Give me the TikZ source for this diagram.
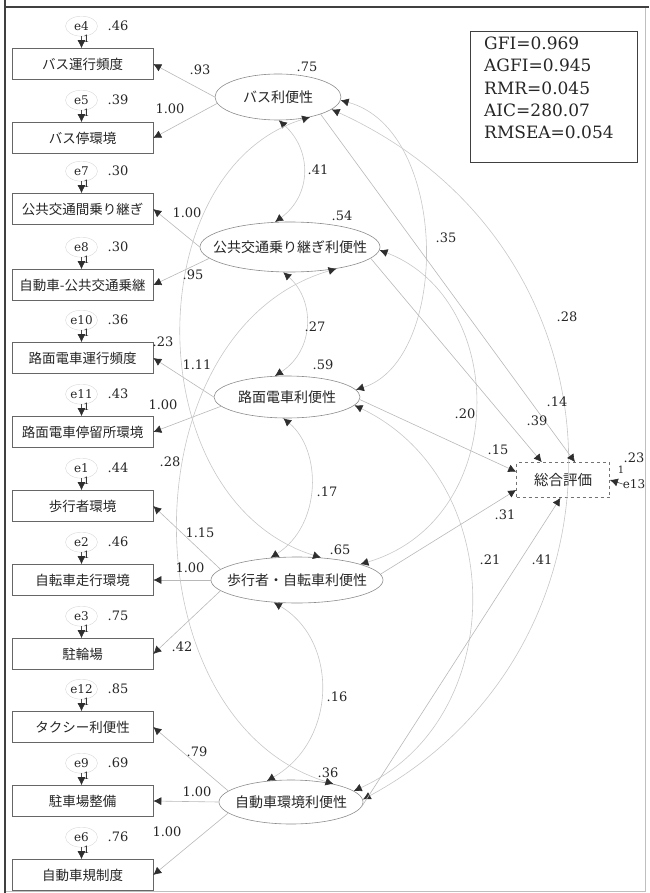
\documentclass[tikz,border=0pt]{standalone}
\usepackage{fontspec}
\setmainfont{DejaVu Serif}
\newfontfamily\jp{Noto Sans CJK JP}
\usetikzlibrary{arrows.meta,shapes.geometric}
\begin{document}
\begin{tikzpicture}[x=1pt,y=-1pt,
  ah/.tip={Latex[length=8pt,width=8pt,color=black!82]},
  obs/.style={draw=black!60, line width=0.6pt, minimum width=141pt, minimum height=31pt, inner sep=0pt, font=\jp\fontsize{13.5}{14}\selectfont, text=black!85},
  latent/.style={ellipse, draw=black!45, line width=0.6pt, inner sep=0pt},
  ltext/.style={font=\jp\fontsize{14}{14}\selectfont, inner sep=0pt, text=black!85},
  con/.style={draw=black!28, line width=0.6pt, -{ah}},
  cov/.style={draw=black!22, line width=0.6pt, {ah}-{ah}},
  econ/.style={draw=black!70, line width=0.6pt, -{ah}},
  ecirc/.style={ellipse, draw=black!15, minimum width=32pt, minimum height=20pt, inner sep=0pt},
  num/.style={font=\fontsize{13}{13}\selectfont, text=black!85, inner sep=0pt},
  enode/.style={font=\fontsize{12}{12}\selectfont, text=black!85, inner sep=0pt},
  one/.style={font=\fontsize{10}{10}\selectfont, text=black!85, inner sep=0pt},
]
\useasboundingbox (0,0) rectangle (649,893);
% frame
\draw[black!25, line width=0.8pt] (645,7) -- (645,891) -- (5,891);
\draw[black!75, line width=1.2pt] (5,7) -- (649,7);
\draw[black!75, line width=2.2pt] (5,0) -- (5,893);

% observed variables
\node[obs] (o1)  at (82.5,64)  {バス運行頻度};
\node[obs] (o2)  at (82.5,138) {バス停環境};
\node[obs] (o3)  at (82.5,209) {公共交通間乗り継ぎ};
\node[obs] (o4)  at (82.5,285) {自動車-公共交通乗継};
\node[obs] (o5)  at (82.5,358) {路面電車運行頻度};
\node[obs] (o6)  at (82.5,432) {路面電車停留所環境};
\node[obs] (o7)  at (82.5,506) {歩行者環境};
\node[obs] (o8)  at (82.5,580) {自転車走行環境};
\node[obs] (o9)  at (82.5,654) {駐輪場};
\node[obs] (o10) at (82.5,727) {タクシー利便性};
\node[obs] (o11) at (82.5,801) {駐車場整備};
\node[obs] (o12) at (82.5,875) {自動車規制度};

% error terms
\foreach \i/\e/\v in {1/e4/.46, 2/e5/.39, 3/e7/.30, 4/e8/.30, 5/e10/.36, 6/e11/.43,
                      7/e1/.44, 8/e2/.46, 9/e3/.75, 10/e12/.85, 11/e9/.69, 12/e6/.76}{
  \path (o\i.north) ++(-1,-22) node[ecirc] (c\i) {} node[enode] (en\i) {\e};
  \node[num, anchor=west] (ev\i) at ([xshift=26pt]c\i.center) {\v};
  \draw[econ] (c\i.south) -- ([xshift=-1pt]o\i.north) node[one, pos=0.2, right=1.5pt] (one\i) {1};
}

% latent variables
\node[latent, minimum width=126pt, minimum height=46pt] (l1) at (278,97) {};
\node[ltext] (lt1) at (l1) {バス利便性};
\node[latent, minimum width=180pt, minimum height=50pt] (l2) at (290,247) {};
\node[ltext] (lt2) at (l2) {公共交通乗り継ぎ利便性};
\node[latent, minimum width=146pt, minimum height=42pt] (l3) at (287,397) {};
\node[ltext] (lt3) at (l3) {路面電車利便性};
\node[latent, minimum width=172pt, minimum height=46pt] (l4) at (297,580) {};
\node[ltext] (lt4) at (l4) {歩行者・自転車利便性};
\node[latent, minimum width=144pt, minimum height=44pt] (l5) at (291,802) {};
\node[ltext] (lt5) at (l5) {自動車環境利便性};

% total evaluation
\node[draw=black!55, dashed, line width=0.6pt, minimum width=93pt, minimum height=35pt, inner sep=0pt,
      font=\jp\fontsize{14.5}{15}\selectfont, text=black!85] (t) at (563,480) {総合評価};
\node[enode] (e13) at (634,484) {e13};
\draw[econ] (e13.west) -- (t.east);
\node[one] (one13) at (621,470) {1};

% fit box
\node[draw=black!75, line width=1pt, minimum width=167pt, minimum height=131pt, inner sep=0pt] (fitbox) at (553.5,97.5) {};
\node[anchor=west, align=left, inner sep=0pt, font=\fontsize{17}{22.3}\selectfont, text=black!85] (fittext) at (484,88)
  {GFI=0.969\\AGFI=0.945\\RMR=0.045\\AIC=280.07\\RMSEA=0.054};

% loadings
\draw[con] (l1.180) -- (o1.east);
\draw[con] (l1.186) -- (o2.east);
\draw[con] (l2.180) -- (o3.east);
\draw[con] (l2.188) -- (o4.east);
\draw[con] (l3.180) -- (o5.east);
\draw[con] (l3.188) -- (o6.east);
\draw[con] (l4.172) -- (o7.east);
\draw[con] (l4.180) -- (o8.east);
\draw[con] (l4.188) -- (o9.east);
\draw[con] (l5.170) -- (o10.east);
\draw[con] (l5.180) -- (o11.east);
\draw[con] (l5.190) -- (o12.east);

% covariances
\draw[cov] (l1.-88) .. controls (312,150) and (312,195) .. (l2.121);
\draw[cov] (l2.-105) .. controls (315,300) and (315,350) .. (l3.120);
\draw[cov] (l3.-100) .. controls (322,450) and (322,525) .. (l4.140);
\draw[cov] (l4.-136) .. controls (338,640) and (338,740) .. (l5.139);
\draw[cov] (l1.-32) .. controls (137,170) and (137,500) .. (l4.43);
\draw[cov] (l2.-25) .. controls (126,330) and (126,720) .. (l5.23);
\draw[cov] (l1.-3) .. controls (450,130) and (450,360) .. (l3.6);
\draw[cov] (l2.-2) .. controls (510,300) and (510,520) .. (l4.14);
\draw[cov] (l3.-7) .. controls (510,480) and (510,720) .. (l5.10);
\draw[cov] (l1.-13) .. controls (640,250) and (640,650) .. (l5.2);

% paths to total evaluation
\draw[con] (l1.-22) -- (t.56);
\draw[con] (l2.-8) -- (t.140);
\draw[con] (l3.-2) -- (t.170);
\draw[con] (l4.4) -- (t.192);
\draw[con] (l5.-4) -- (t.-98);

% coefficient labels
\foreach \n/\x/\y/\t in {
 a1/200/70/.93, a2/170/109/1.00, a3/187/213/1.00, a4/193/275/.95, a5/163/342/.23,
 a6/197/365/1.11, a7/163/405/1.00, a8/170/462/.28, a9/200/533/1.15, a10/190/568/1.00,
 a11/182/647/.42, a12/197/752/.79, a13/197/792/1.00, a14/167/832/1.00,
 v1/307/67/.75, v2/342/216/.54, v3/323/365/.59, v4/340/550/.65, v5/328/773/.36,
 k1/318/170/.41, k2/315/327/.27, k3/327/492/.17, k4/337/697/.16,
 r1/446/238/.35, r2/567/317/.28, r3/557/402/.14, r4/537/421/.39, r5/465/414/.20,
 r6/498/450/.15, r7/505/515/.31, r8/490/560/.21, r9/542/560/.41, r10/634/458/.23}
 \node[num] (\n) at (\x,\y) {\t};
\end{tikzpicture}
\end{document}
